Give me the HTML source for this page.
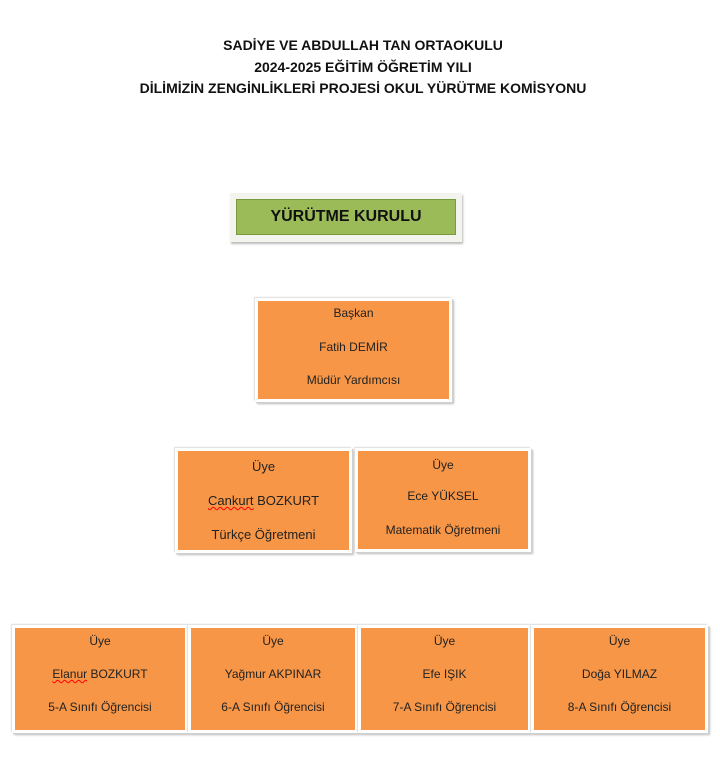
<!DOCTYPE html>
<html><head><meta charset="utf-8"><style>
body{margin:0;width:720px;height:768px;background:#fff;position:relative;font-family:"Liberation Sans",sans-serif;overflow:hidden}
.t{position:absolute;left:0;width:726px;text-align:center;font-weight:bold;font-size:14px;color:#111}
.b{position:absolute;background:#f79646;border:3px solid #fff;box-shadow:1px 1px 0 #d0d0d0,2px 2px 2px #bbb,-1px -1px 1px #ddd;box-sizing:border-box;text-align:center;font-size:12px;color:#222}
.b div{position:absolute;left:0;right:0}
.g{position:absolute;left:230px;top:193px;width:232px;height:49px;background:#f4f4ee;box-shadow:1px 2px 2px #bbb;box-sizing:border-box}
.g div{position:absolute;left:6px;top:6px;right:6px;bottom:7px;background:#9bbb59;border:1px solid #7a9a40;text-align:center;line-height:34px;font-weight:bold;font-size:16px;color:#111}
u{text-decoration:underline wavy red;text-decoration-thickness:1px}
</style></head><body>
<div class="t" style="top:37px">SADİYE VE ABDULLAH TAN ORTAOKULU</div>
<div class="t" style="top:59px">2024-2025 EĞİTİM ÖĞRETİM YILI</div>
<div class="t" style="top:80px">DİLİMİZİN ZENGİNLİKLERİ PROJESİ OKUL YÜRÜTME KOMİSYONU</div>
<div class="g"><div>YÜRÜTME KURULU</div></div>
<div class="b" style="left:255px;top:298px;width:197px;height:104px"><div style="top:5px">Başkan</div><div style="top:39px">Fatih DEMİR</div><div style="top:72px">Müdür Yardımcısı</div></div>
<div class="b" style="left:175px;top:448px;width:177px;height:105px;font-size:13px"><div style="top:8px">Üye</div><div style="top:42px"><u>Cankurt</u> BOZKURT</div><div style="top:76px">Türkçe Öğretmeni</div></div>
<div class="b" style="left:355px;top:448px;width:176px;height:104px"><div style="top:7px">Üye</div><div style="top:38px">Ece YÜKSEL</div><div style="top:72px">Matematik Öğretmeni</div></div>
<div class="b" style="left:12px;top:625px;width:176px;height:108px"><div style="top:6px">Üye</div><div style="top:39px"><u>Elanur</u> BOZKURT</div><div style="top:72px">5-A Sınıfı Öğrencisi</div></div>
<div class="b" style="left:188px;top:625px;width:170px;height:108px"><div style="top:6px">Üye</div><div style="top:39px">Yağmur AKPINAR</div><div style="top:72px">6-A Sınıfı Öğrencisi</div></div>
<div class="b" style="left:358px;top:625px;width:173px;height:108px"><div style="top:6px">Üye</div><div style="top:39px">Efe IŞIK</div><div style="top:72px">7-A Sınıfı Öğrencisi</div></div>
<div class="b" style="left:531px;top:625px;width:177px;height:108px"><div style="top:6px">Üye</div><div style="top:39px">Doğa YILMAZ</div><div style="top:72px">8-A Sınıfı Öğrencisi</div></div>
</body></html>
